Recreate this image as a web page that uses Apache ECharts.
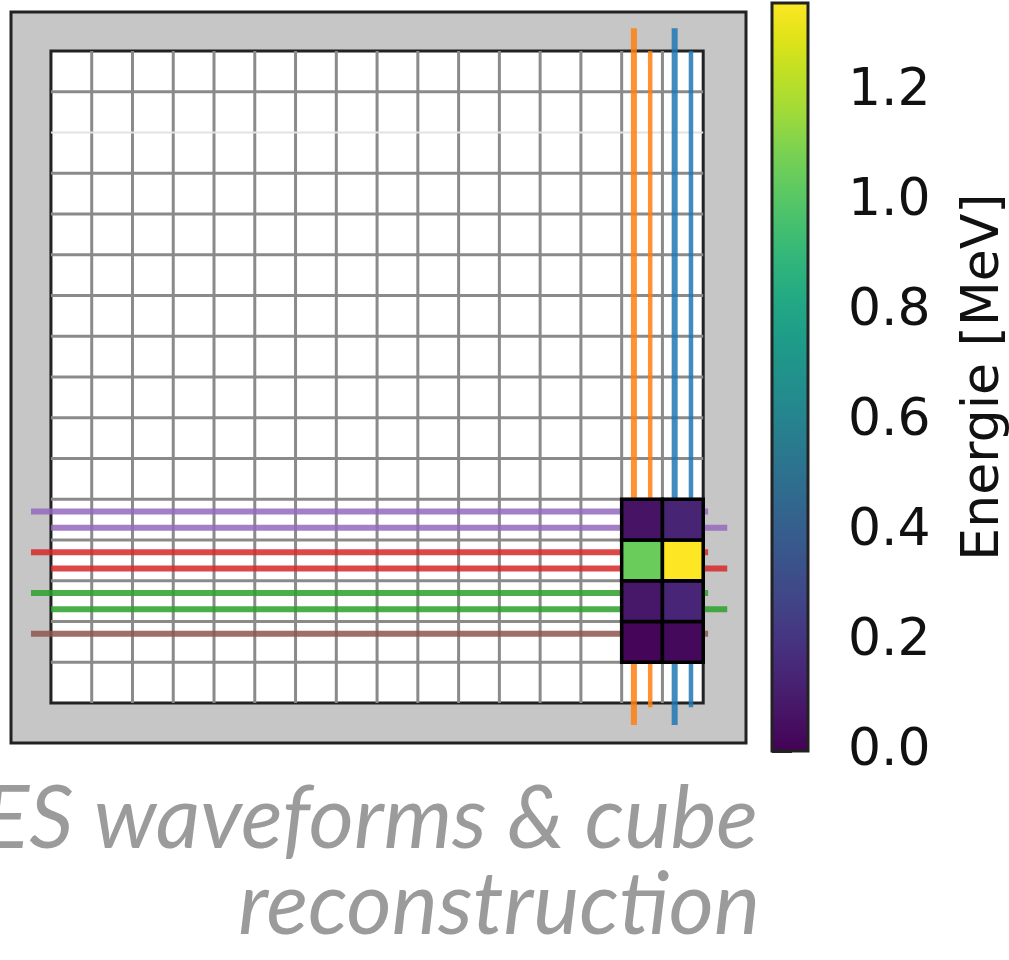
<!DOCTYPE html>
<html>
<head>
<meta charset="utf-8">
<script src="https://cdn.jsdelivr.net/npm/echarts@6/dist/echarts.min.js"></script>
<style>
  html, body { margin: 0; padding: 0; background: #ffffff; }
  #chart { width: 1009px; height: 960px; }
</style>
</head>
<body>
<div id="chart"></div>
<script>
// Detector plane made of nCells x nCells cubes
const nCells = 16;
// Rows drawn with a faint line instead of a full grid line
const faintRows = [14];

// Reconstructed cubes: columns, rows and deposited energy [MeV] (rows bottom to top)
const cubeCols = [14, 15];
const cubeRows = [1, 2, 3, 4];
const cubeEnergy = [
  [0.015, 0.03],
  [0.09, 0.14],
  [1.05, 1.36],
  [0.07, 0.135]
];

// Vertical readout fibres: position, start, end, colour
const fibreX = [14.3, 14.7, 15.3, 15.7];
const fibreXStart = [-0.54, -0.1, -0.54, -0.1];
const fibreXEnd = [16.56, 16.0, 16.56, 16.0];
const fibreXColor = ['#ff7f0e', '#ff7f0e', '#1f77b4', '#1f77b4'];
const fibreXWidth = [6, 4.5, 6, 4.5];

// Horizontal readout fibres: position, start, end, colour
const fibreY = [4.7, 4.3, 3.7, 3.3, 2.7, 2.3, 1.7];
const fibreYStart = [-0.49, 0, -0.49, 0, -0.49, 0, -0.49];
const fibreYEnd = [16.12, 16.59, 16.12, 16.59, 16.12, 16.59, 16.12];
const fibreYColor = ['#9467bd', '#9467bd', '#d62728', '#d62728', '#2ca02c', '#2ca02c', '#8c564b'];

// Colour scale
const energyMax = 1.36;
const cbarTicks = [0, 0.2, 0.4, 0.6, 0.8, 1.0, 1.2];
const viridis = [
  '#440154', '#471365', '#482475', '#463480', '#414487', '#3b528b', '#355f8d',
  '#2f6c8e', '#2a788e', '#25858e', '#21918c', '#1e9c89', '#22a884', '#2fb47c',
  '#44bf70', '#5ec962', '#7ad151', '#9fda3a', '#bddf26', '#dfe318', '#fde725'
];

// Caption under the plane
const captionLines = ['ES waveforms & cube', 'reconstruction'];

// ---- derived series data ----
const gridLineData = [];
for (let i = 1; i < nCells; i++) {
  gridLineData.push([i, 0, i, nCells, 0]);
  gridLineData.push([0, i, nCells, i, faintRows.includes(i) ? 1 : 0]);
}
const fibreData = [];
fibreY.forEach((y, i) => fibreData.push([fibreYStart[i], y, fibreYEnd[i], y, i, 'h']));
fibreX.forEach((x, i) => fibreData.push([x, fibreXStart[i], x, fibreXEnd[i], i, 'v']));
const cubeData = [];
cubeRows.forEach((r, ri) => cubeCols.forEach((c, ci) => cubeData.push([c, r, cubeEnergy[ri][ci]])));

const chart = echarts.init(document.getElementById('chart'), null, { renderer: 'canvas' });

const option = {
  animation: false,
  backgroundColor: '#ffffff',
  grid: [
    {
      left: 11, top: 12, width: 735, height: 731,
      show: true, backgroundColor: '#c6c6c6', borderColor: '#222222', borderWidth: 3,
      outerBoundsMode: 'none', containLabel: false
    },
    {
      left: 772, top: 3, width: 36, height: 748,
      outerBoundsMode: 'none', containLabel: false
    }
  ],
  xAxis: [
    { type: 'value', gridIndex: 0, min: -0.98, max: 17.05, show: false },
    { type: 'value', gridIndex: 1, min: 0, max: 1, show: false }
  ],
  yAxis: [
    { type: 'value', gridIndex: 0, min: -0.98, max: 16.96, show: false },
    {
      type: 'value', gridIndex: 1, min: 0, max: energyMax, position: 'right',
      axisLine: { show: false },
      splitLine: { show: false },
      axisTick: {
        show: true, inside: false, length: 20, customValues: cbarTicks,
        lineStyle: { color: '#222222', width: 3 }
      },
      axisLabel: {
        show: true, customValues: cbarTicks, margin: 40,
        formatter: v => v.toFixed(1),
        fontFamily: 'DejaVu Sans', fontSize: 52, color: '#111111'
      },
      name: 'Energie [MeV]', nameLocation: 'middle', nameRotate: 90, nameGap: 150,
      nameTextStyle: { fontFamily: 'DejaVu Sans', fontSize: 52, color: '#111111' }
    }
  ],
  visualMap: {
    type: 'continuous', show: false, min: 0, max: energyMax,
    dimension: 2, seriesIndex: 3, inRange: { color: viridis }
  },
  series: [
    {
      // white detector plane with dark outline
      type: 'custom', xAxisIndex: 0, yAxisIndex: 0, z: 1, silent: true,
      data: [[0, 0, nCells, nCells]],
      renderItem: (params, api) => {
        const p0 = api.coord([api.value(0), api.value(3)]);
        const p1 = api.coord([api.value(2), api.value(1)]);
        return {
          type: 'rect',
          shape: { x: p0[0], y: p0[1], width: p1[0] - p0[0], height: p1[1] - p0[1] },
          style: { fill: '#ffffff', stroke: '#222222', lineWidth: 3 }
        };
      }
    },
    {
      // cube boundaries
      type: 'custom', xAxisIndex: 0, yAxisIndex: 0, z: 2, silent: true,
      data: gridLineData,
      renderItem: (params, api) => {
        const a = api.coord([api.value(0), api.value(1)]);
        const b = api.coord([api.value(2), api.value(3)]);
        const faint = api.value(4) === 1;
        return {
          type: 'line',
          shape: { x1: a[0], y1: a[1], x2: b[0], y2: b[1] },
          style: { stroke: faint ? '#e2e2e2' : '#8a8a8a', lineWidth: faint ? 2 : 3 }
        };
      }
    },
    {
      // readout fibres
      type: 'custom', xAxisIndex: 0, yAxisIndex: 0, z: 3, silent: true,
      data: fibreData,
      renderItem: (params, api) => {
        const item = fibreData[params.dataIndex];
        const a = api.coord([item[0], item[1]]);
        const b = api.coord([item[2], item[3]]);
        const horiz = item[5] === 'h';
        const color = horiz ? fibreYColor[item[4]] : fibreXColor[item[4]];
        const w = horiz ? 6 : fibreXWidth[item[4]];
        return {
          type: 'line',
          shape: { x1: a[0], y1: a[1], x2: b[0], y2: b[1] },
          style: { stroke: color, lineWidth: w, opacity: 0.85 }
        };
      }
    },
    {
      // reconstructed cubes coloured by energy
      type: 'custom', xAxisIndex: 0, yAxisIndex: 0, z: 4, silent: true,
      data: cubeData,
      renderItem: (params, api) => {
        const x = api.value(0), y = api.value(1);
        const p0 = api.coord([x, y + 1]);
        const p1 = api.coord([x + 1, y]);
        return {
          type: 'rect',
          shape: { x: p0[0], y: p0[1], width: p1[0] - p0[0], height: p1[1] - p0[1] },
          style: { fill: api.visual('color'), stroke: '#000000', lineWidth: 3.5 }
        };
      }
    },
    {
      // colour bar
      type: 'custom', xAxisIndex: 1, yAxisIndex: 1, z: 2, silent: true,
      data: [[0, 0, 1, energyMax]],
      renderItem: (params, api) => {
        const p0 = api.coord([api.value(0), api.value(3)]);
        const p1 = api.coord([api.value(2), api.value(1)]);
        const stops = viridis.map((c, i) => ({ offset: i / (viridis.length - 1), color: c }));
        return {
          type: 'rect',
          shape: { x: p0[0], y: p0[1], width: p1[0] - p0[0], height: p1[1] - p0[1] },
          style: {
            fill: new echarts.graphic.LinearGradient(0, 1, 0, 0, stops),
            stroke: '#222222', lineWidth: 3
          }
        };
      }
    }
  ],
  graphic: [
    {
      type: 'text', silent: true,
      style: {
        text: captionLines[0], x: 758, y: 820, align: 'right', verticalAlign: 'middle',
        font: 'italic 87px Lato', fill: '#9b9b9b'
      }
    },
    {
      type: 'text', silent: true,
      style: {
        text: captionLines[1], x: 760, y: 906, align: 'right', verticalAlign: 'middle',
        font: 'italic 87px Lato', fill: '#9b9b9b'
      }
    }
  ]
};

chart.setOption(option);
</script>
</body>
</html>
